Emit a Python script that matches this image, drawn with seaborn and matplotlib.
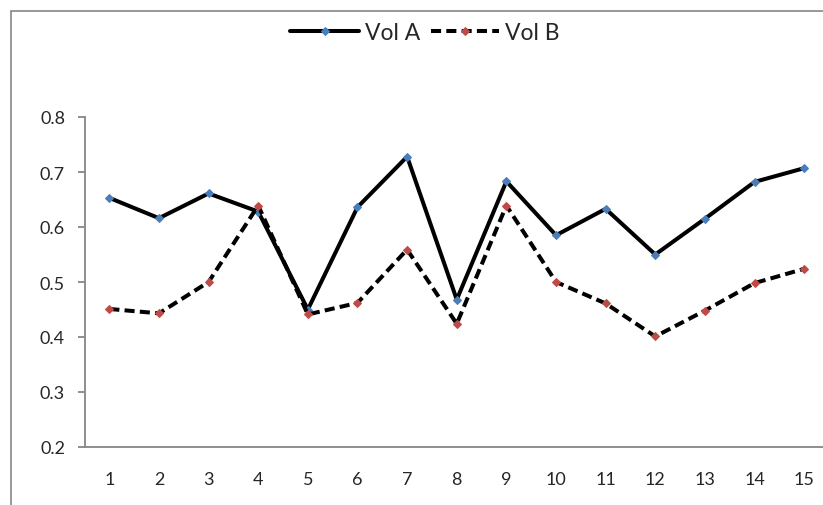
import matplotlib
matplotlib.use("Agg")
import matplotlib.pyplot as plt
import matplotlib.patches as mpatches
import seaborn as sns

# data
categories = list(range(1, 16))
vol_a = [0.653, 0.616, 0.661, 0.628, 0.450, 0.636, 0.728, 0.468,
         0.683, 0.585, 0.633, 0.550, 0.615, 0.682, 0.707]
vol_b = [0.451, 0.443, 0.500, 0.639, 0.441, 0.462, 0.559, 0.424,
         0.639, 0.500, 0.461, 0.401, 0.448, 0.498, 0.524]
y_ticks = [0.2, 0.3, 0.4, 0.5, 0.6, 0.7, 0.8]

BLUE = '#4a7ebb'
RED = '#be4b48'
GREY = '#868686'

sns.set_style('white')
plt.rcParams['font.family'] = ['Lato', 'DejaVu Sans']

W, H = 823, 506
fig = plt.figure(figsize=(W / 100, H / 100), dpi=100)

# outer chart border (cropped at right / bottom in the reference)
fig.patches.append(mpatches.Rectangle((10.5 / W, -0.1), 2.0, 1.1 - 12 / H,
                                      transform=fig.transFigure, fill=False,
                                      edgecolor=GREY, lw=1.2))

ax = fig.add_axes([84.5 / W, 58 / H, (829 - 84.5) / W, 330 / H])

sns.lineplot(x=categories, y=vol_a, ax=ax, color='black', lw=2.9,
             marker='D', markersize=4.5, markerfacecolor=BLUE,
             markeredgecolor=BLUE, label='Vol A')
sns.lineplot(x=categories, y=vol_b, ax=ax, color='black', lw=2.9,
             linestyle=(0, (2.5, 1.3)), marker='D', markersize=4.5,
             markerfacecolor=RED, markeredgecolor=RED, label='Vol B')

ax.set_xlim(0.5, 15.5)
ax.set_ylim(0.2, 0.8)
ax.set_xticks(categories)
ax.set_yticks(y_ticks)
ax.set_yticklabels([f'{v:.1f}' for v in y_ticks])

for side in ('top', 'right'):
    ax.spines[side].set_visible(False)
for side in ('left', 'bottom'):
    ax.spines[side].set_color(GREY)
    ax.spines[side].set_linewidth(1.3)

ax.tick_params(axis='y', length=5, width=1.3, color=GREY, direction='out',
               pad=9, labelsize=13, left=True)
ax.tick_params(axis='x', length=0, pad=17, labelsize=13)

ax.legend(loc='center', bbox_to_anchor=(425 / W, 1 - 34 / H),
          bbox_transform=fig.transFigure, ncol=2, frameon=False,
          fontsize=16.5, handlelength=3.0, handletextpad=0.25,
          columnspacing=0.45)

fig.savefig('out.png', dpi=100)
